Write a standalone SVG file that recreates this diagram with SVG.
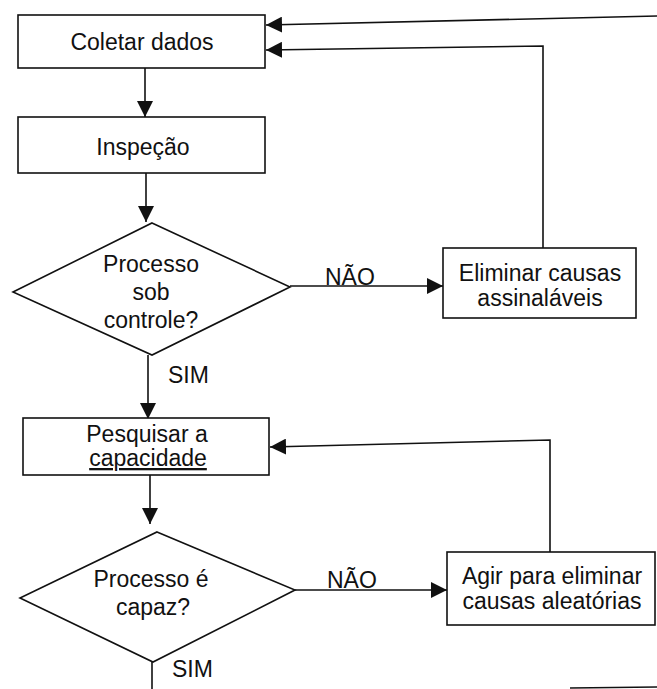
<svg xmlns="http://www.w3.org/2000/svg" width="657" height="689" viewBox="0 0 657 689">
<style>
  .box { fill: #fff; stroke: #111; stroke-width: 1.6; }
  .t { font-family: "Liberation Sans", Arial, sans-serif; font-size: 23px; fill: #111; text-anchor: middle; }
  .lbl { font-family: "Liberation Sans", Arial, sans-serif; font-size: 23px; fill: #111; }
  .c { fill: none; stroke: #111; stroke-width: 1.6; }
</style>
<defs>
  <marker id="ah" markerUnits="userSpaceOnUse" markerWidth="16" markerHeight="16" refX="16" refY="8" orient="auto">
    <path d="M0,0 L16,8 L0,16 z" fill="#111"/>
  </marker>
</defs>
<rect width="657" height="689" fill="#fff"/>

<g id="connectors">
  <line class="c" x1="145" y1="68" x2="145" y2="117" marker-end="url(#ah)"/>
  <line class="c" x1="146" y1="173" x2="146" y2="222" marker-end="url(#ah)"/>
  <line class="c" x1="148" y1="355" x2="148" y2="419" marker-end="url(#ah)"/>
  <line class="c" x1="290" y1="286" x2="443" y2="286" marker-end="url(#ah)"/>
  <polyline class="c" points="543,248 543,46 266,50" marker-end="url(#ah)"/>
  <line class="c" x1="657" y1="16" x2="266" y2="25" marker-end="url(#ah)"/>
  <line class="c" x1="150" y1="475" x2="150" y2="524" marker-end="url(#ah)"/>
  <line class="c" x1="295" y1="590" x2="447" y2="590" marker-end="url(#ah)"/>
  <polyline class="c" points="550,552 550,440 270,447" marker-end="url(#ah)"/>
  <line class="c" x1="152" y1="655" x2="152" y2="689"/>
  <line class="c" x1="570" y1="688" x2="657" y2="687"/>
  <text class="lbl" x="325" y="285">NÃO</text>
  <text class="lbl" x="168" y="383">SIM</text>
  <text class="lbl" x="327" y="588">NÃO</text>
  <text class="lbl" x="172" y="677">SIM</text>
</g>

<g id="coletar">
  <rect class="box" x="18" y="15" width="247" height="53"/>
  <text class="t" x="142" y="50">Coletar dados</text>
</g>
<g id="inspecao">
  <rect class="box" x="18" y="117" width="247" height="56"/>
  <text class="t" x="143" y="155">Inspeção</text>
</g>
<g id="decisao1">
  <polygon class="box" points="152,223 290,287 152,355 13,292"/>
  <text class="t" x="151" y="272">Processo</text>
  <text class="t" x="151" y="300">sob</text>
  <text class="t" x="151" y="328">controle?</text>
</g>
<g id="eliminar">
  <rect class="box" x="443" y="248" width="193" height="70"/>
  <text class="t" x="540" y="281">Eliminar causas</text>
  <text class="t" x="540" y="306">assinaláveis</text>
</g>
<g id="pesquisar">
  <rect class="box" x="23" y="418" width="246" height="57"/>
  <text class="t" x="147" y="442">Pesquisar a</text>
  <text class="t" x="148" y="466" text-decoration="underline">capacidade</text>
</g>
<g id="decisao2">
  <polygon class="box" points="157,532 295,590 153,662 20,598"/>
  <text class="t" x="151" y="587">Processo é</text>
  <text class="t" x="153" y="615">capaz?</text>
</g>
<g id="agir">
  <rect class="box" x="447" y="552" width="208" height="73"/>
  <text class="t" x="552" y="584">Agir para eliminar</text>
  <text class="t" x="552" y="609">causas aleatórias</text>
</g>
</svg>
